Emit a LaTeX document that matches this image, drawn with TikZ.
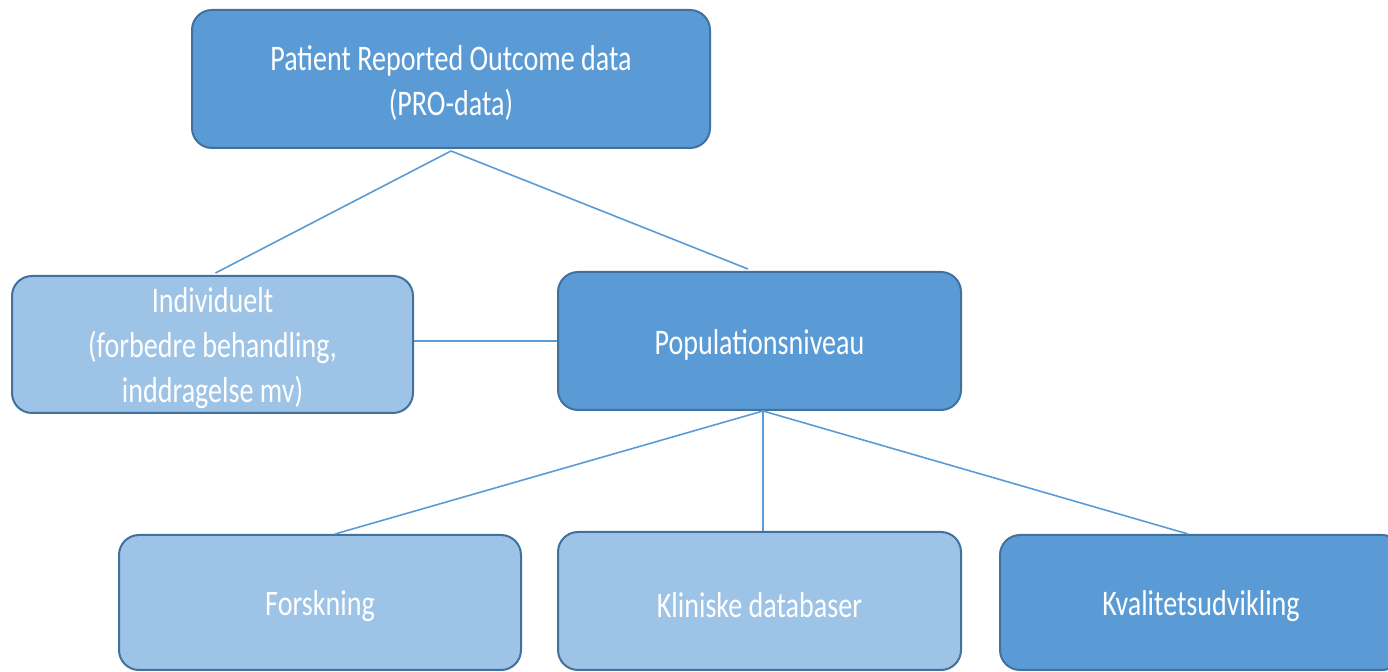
\documentclass[tikz,border=0pt]{standalone}
\usepackage{fontspec}
\newfontfamily\calfont[FakeStretch=0.78]{Carlito}
\definecolor{darkfill}{HTML}{5B9BD5}
\definecolor{lightfill}{HTML}{9DC3E6}
\definecolor{edgeblue}{HTML}{41719C}
\definecolor{linkblue}{HTML}{5B9BD5}
\tikzset{
  boxbase/.style={rectangle, rounded corners=10pt, draw=edgeblue, line width=1pt,
    inner sep=0pt},
  boxtext/.style={text=white, align=center, inner sep=0pt, yshift=-2pt,
    font=\calfont\fontsize{18}{22.5}\selectfont},
  darkbox/.style={boxbase, fill=darkfill},
  lightbox/.style={boxbase, fill=lightfill},
  link/.style={draw=linkblue, line width=0.8pt}
}
\begin{document}
\begin{tikzpicture}[x=0.5pt,y=-0.5pt]
\useasboundingbox (0,0) rectangle (1388,672);
\node[darkbox, minimum width=259pt, minimum height=69pt,
  label={[boxtext]center:Patient Reported Outcome data\\(PRO-data)}] (pro) at (451,79) {};
\node[lightbox, minimum width=200.5pt, minimum height=68.5pt,
  label={[boxtext]center:Individuelt\\(forbedre behandling,\\inddragelse mv)}] (ind) at (212.5,344.5) {};
\node[darkbox, minimum width=201.5pt, minimum height=69pt,
  label={[boxtext]center:Populationsniveau}] (pop) at (759.5,341) {};
\node[lightbox, minimum width=201pt, minimum height=67.5pt,
  label={[boxtext]center:Forskning}] (fors) at (320,602.5) {};
\node[lightbox, minimum width=201.5pt, minimum height=69pt,
  label={[boxtext]center:Kliniske databaser}] (klin) at (759.5,601) {};
\node[darkbox, minimum width=201pt, minimum height=67.5pt,
  label={[boxtext]center:Kvalitetsudvikling}] (kval) at (1201,602.5) {};
\draw[link] ([yshift=-1pt]pro.south) -- ([xshift=1.5pt,yshift=1pt]ind.north);
\draw[link] ([yshift=-1pt]pro.south) -- ([xshift=-5.75pt,yshift=1pt]pop.north);
\draw[link] (ind.east |- pop.west) -- (pop.west);
\draw[link] ([xshift=1.75pt]pop.south) -- ([xshift=7.5pt]fors.north);
\draw[link] ([xshift=1.75pt]pop.south) -- ([xshift=1.75pt]klin.north);
\draw[link] ([xshift=1.75pt]pop.south) -- ([xshift=-6.5pt]kval.north);
\end{tikzpicture}
\end{document}
